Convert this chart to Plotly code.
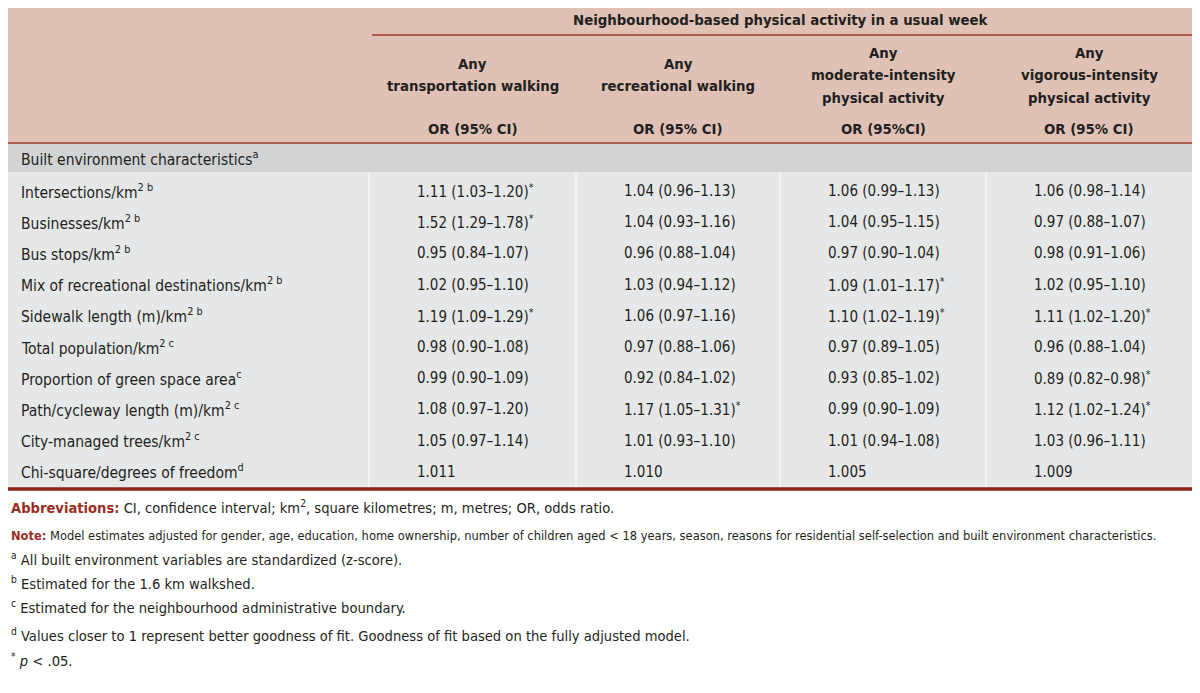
import plotly.graph_objects as go

# ---------------- data ----------------
group_title = "Neighbourhood-based physical activity in a usual week"
col_titles = [
    ["Any", "transportation walking"],
    ["Any", "recreational walking"],
    ["Any", "moderate-intensity", "physical activity"],
    ["Any", "vigorous-intensity", "physical activity"],
]
col_units = ["OR (95% CI)", "OR (95% CI)", "OR (95%CI)", "OR (95% CI)"]
section_label = "Built environment characteristics<sup>a</sup>"
row_labels = [
    "Intersections/km<sup>2 b</sup>",
    "Businesses/km<sup>2 b</sup>",
    "Bus stops/km<sup>2 b</sup>",
    "Mix of recreational destinations/km<sup>2 b</sup>",
    "Sidewalk length (m)/km<sup>2 b</sup>",
    "Total population/km<sup>2 c</sup>",
    "Proportion of green space area<sup>c</sup>",
    "Path/cycleway length (m)/km<sup>2 c</sup>",
    "City-managed trees/km<sup>2 c</sup>",
]
trans_or = [1.11, 1.52, 0.95, 1.02, 1.19, 0.98, 0.99, 1.08, 1.05]
trans_lo = [1.03, 1.29, 0.84, 0.95, 1.09, 0.90, 0.90, 0.97, 0.97]
trans_hi = [1.20, 1.78, 1.07, 1.10, 1.29, 1.08, 1.09, 1.20, 1.14]
trans_sig = [1, 1, 0, 0, 1, 0, 0, 0, 0]
rec_or = [1.04, 1.04, 0.96, 1.03, 1.06, 0.97, 0.92, 1.17, 1.01]
rec_lo = [0.96, 0.93, 0.88, 0.94, 0.97, 0.88, 0.84, 1.05, 0.93]
rec_hi = [1.13, 1.16, 1.04, 1.12, 1.16, 1.06, 1.02, 1.31, 1.10]
rec_sig = [0, 0, 0, 0, 0, 0, 0, 1, 0]
mod_or = [1.06, 1.04, 0.97, 1.09, 1.10, 0.97, 0.93, 0.99, 1.01]
mod_lo = [0.99, 0.95, 0.90, 1.01, 1.02, 0.89, 0.85, 0.90, 0.94]
mod_hi = [1.13, 1.15, 1.04, 1.17, 1.19, 1.05, 1.02, 1.09, 1.08]
mod_sig = [0, 0, 0, 1, 1, 0, 0, 0, 0]
vig_or = [1.06, 0.97, 0.98, 1.02, 1.11, 0.96, 0.89, 1.12, 1.03]
vig_lo = [0.98, 0.88, 0.91, 0.95, 1.02, 0.88, 0.82, 1.02, 0.96]
vig_hi = [1.14, 1.07, 1.06, 1.10, 1.20, 1.04, 0.98, 1.24, 1.11]
vig_sig = [0, 0, 0, 0, 1, 0, 1, 1, 0]
fit_label = "Chi-square/degrees of freedom<sup>d</sup>"
fit_values = ["1.011", "1.010", "1.005", "1.009"]

footnotes = [
    "<b><span style='color:#9b2d22'>Abbreviations:</span></b> CI, confidence interval; km<sup>2</sup>, square kilometres; m, metres; OR, odds ratio.",
    "<b><span style='color:#9b2d22'>Note:</span></b> Model estimates adjusted for gender, age, education, home ownership, number of children aged &lt; 18 years, season, reasons for residential self-selection and built environment characteristics.",
    "<sup>a</sup> All built environment variables are standardized (z-score).",
    "<sup>b</sup> Estimated for the 1.6 km walkshed.",
    "<sup>c</sup> Estimated for the neighbourhood administrative boundary.",
    "<sup>d</sup> Values closer to 1 represent better goodness of fit. Goodness of fit based on the fully adjusted model.",
    "<sup>*</sup> <i>p</i> &lt; .05.",
]
footnote_sizes = [14.6, 12.75, 14.6, 14.6, 14.6, 14.6, 14.6]

# ---------------- layout constants ----------------
PAGE_OFF = 8  # default body margin of the page
W, H = 1200 - 2 * PAGE_OFF, 693 - 2 * PAGE_OFF
FONT = "DejaVu Sans Condensed, Liberation Sans Narrow, sans-serif"
TXT = "#231f20"
PINK = "#dfc1b5"
LIGHT = "#e6e7e8"
MID = "#d1d3d4"
RED = "#a33a2e"
DARKRED = "#8a2418"

left, right = 7, 1192
col_edges = [369, 576, 780, 986, right]
top = 3
header_bottom = 143
section_bottom = 172
body_bottom = 488
first_row_y = 191
row_step = 31.2

series = [
    (trans_or, trans_lo, trans_hi, trans_sig),
    (rec_or, rec_lo, rec_hi, rec_sig),
    (mod_or, mod_lo, mod_hi, mod_sig),
    (vig_or, vig_lo, vig_hi, vig_sig),
]

def fmt(o, lo, hi, s):
    t = f"{o:.2f} ({lo:.2f}\u2013{hi:.2f})"
    if s:
        t += "<sup>*</sup>"
    return t

shapes = []
def rect(x0, y0, x1, y1, color):
    shapes.append(dict(type="rect", xref="x", yref="y", x0=x0, y0=y0, x1=x1, y1=y1,
                       fillcolor=color, line=dict(width=0), layer="below"))
def line(x0, y0, x1, y1, color, w):
    shapes.append(dict(type="line", xref="x", yref="y", x0=x0, y0=y0, x1=x1, y1=y1,
                       line=dict(color=color, width=w)))

rect(left, top, right, header_bottom, PINK)
rect(left, header_bottom, right, section_bottom, MID)
rect(left, section_bottom, right, body_bottom, LIGHT)
line(col_edges[0] + 3, 35, right, 35, RED, 1.5)
line(left, header_bottom, right, header_bottom, RED, 1.5)
for xe in col_edges[:-1]:
    line(xe, section_bottom, xe, body_bottom, "#f7f7f7", 1.5)
line(left, body_bottom + 1, right, body_bottom + 1, DARKRED, 3.5)

ann = []
def text(x, y, s, size=16, bold=False, xanchor="left", color=TXT):
    if bold:
        s = f"<b>{s}</b>"
    ann.append(dict(x=x, y=y, xref="x", yref="y", text=s, showarrow=False,
                    xanchor=xanchor, yanchor="middle", align="left",
                    font=dict(family=FONT, size=size, color=color)))

HSIZE = 14.8
# header
text((col_edges[0] + right) / 2, 19, group_title, size=HSIZE, bold=True, xanchor="center")
for j, (lines_, u) in enumerate(zip(col_titles, col_units)):
    cx = (col_edges[j] + col_edges[j + 1]) / 2
    n = len(lines_)
    for k, ln in enumerate(lines_):
        cy = 74.5 + (k - (n - 1) / 2) * 22.5
        text(cx, cy, ln, size=HSIZE, bold=True, xanchor="center")
    text(cx, 128, u, size=HSIZE, bold=True, xanchor="center")

text(19, 158, section_label, size=15.5)

# body rows
for i, lab in enumerate(row_labels):
    y = first_row_y + row_step * i
    text(19, y, lab, size=15.5)
    for j, (o, lo, hi, s) in enumerate(series):
        text(col_edges[j] + 46, y, fmt(o[i], lo[i], hi[i], s[i]), size=15)
yf = first_row_y + row_step * len(row_labels)
text(19, yf, fit_label, size=15.5)
for j, v in enumerate(fit_values):
    text(col_edges[j] + 46, yf, v, size=15)

# footnotes
foot_y = [507, 535, 559, 583, 607, 635, 660]
for s, y, fs in zip(footnotes, foot_y, footnote_sizes):
    text(PAGE_OFF + 0.5, y, s, size=fs)

fig = go.Figure()
fig.update_layout(
    width=W, height=H,
    margin=dict(l=0, r=0, t=0, b=0),
    paper_bgcolor="white", plot_bgcolor="white",
    xaxis=dict(range=[PAGE_OFF, PAGE_OFF + W], visible=False, fixedrange=True),
    yaxis=dict(range=[PAGE_OFF + H, PAGE_OFF], visible=False, fixedrange=True),
    shapes=shapes, annotations=ann, showlegend=False,
)
fig.write_html("out.html")
